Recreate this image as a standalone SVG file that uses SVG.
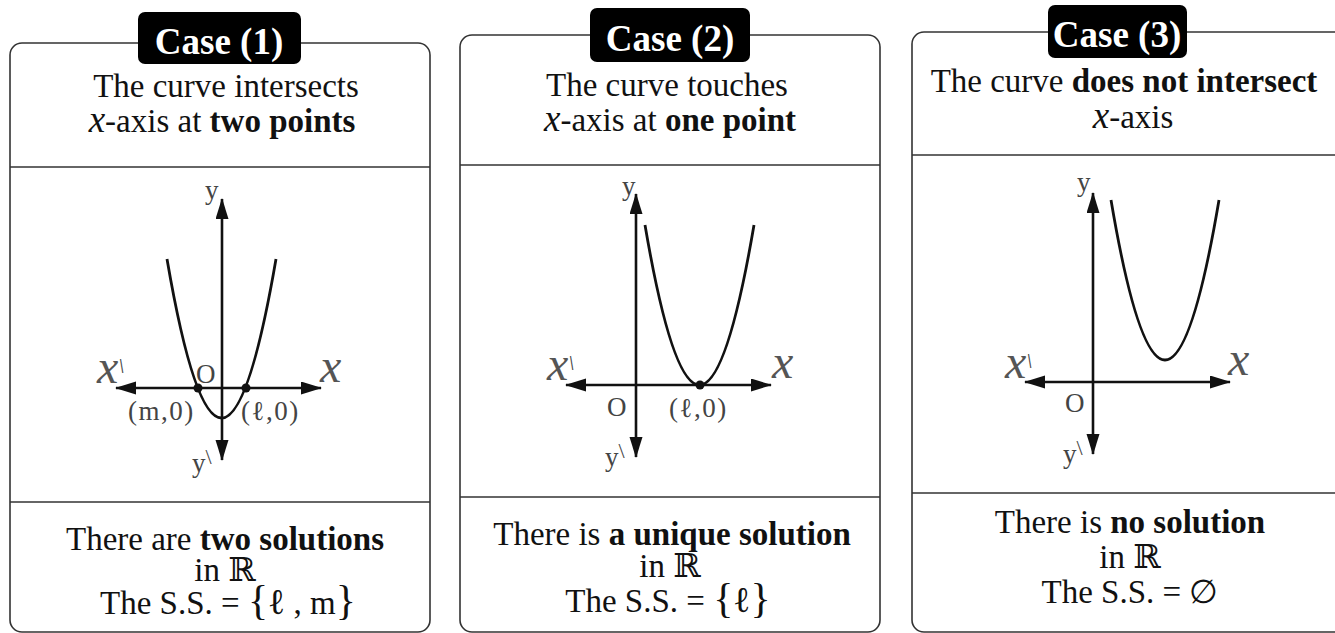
<svg xmlns="http://www.w3.org/2000/svg" width="1335" height="633" viewBox="0 0 1335 633">
<style>
.box{fill:#fff;stroke:#333;stroke-width:1.6}
.div{stroke:#333;stroke-width:1.6}
.tag{fill:#000}
.tagt{font-family:"Liberation Serif",serif;font-weight:bold;font-size:37px;fill:#fff;text-anchor:middle}
.t{font-family:"Liberation Serif","DejaVu Serif",serif;font-size:33px;fill:#111;text-anchor:middle}
.b{font-weight:bold}
.sx{font-family:"Liberation Serif",serif;font-style:italic;font-size:37px}
.ax{stroke:#111;stroke-width:2.6;fill:none;marker-end:url(#ah);marker-start:url(#ah)}
.cv{stroke:#111;stroke-width:2.8;fill:none}
.dot{fill:#111}
.lb{font-family:"Liberation Serif","DejaVu Serif",serif;font-size:27px;fill:#444}
.lx{font-family:"Liberation Serif",serif;font-style:italic;font-size:48px;fill:#555}
.tk{font-family:"Liberation Serif",serif;font-size:22px;fill:#444}
.br{font-size:42px}
</style>
<defs>
<marker id="ah" markerUnits="userSpaceOnUse" markerWidth="24" markerHeight="14" refX="20" refY="6.5" orient="auto-start-reverse">
<path d="M0,0 L21,6.5 L0,13 z" fill="#111"/>
</marker>
</defs>

<g id="case1">
<rect class="box" x="10" y="43" width="420" height="589" rx="12"/>
<line class="div" x1="10" y1="167" x2="430" y2="167"/>
<line class="div" x1="10" y1="502" x2="430" y2="502"/>
<rect class="tag" x="138" y="12" width="163" height="52" rx="7"/>
<text class="tagt" x="219" y="54">Case (1)</text>
<text class="t" x="226" y="97">The curve intersects</text>
<text class="t" x="222" y="132"><tspan class="sx">x</tspan>-axis at <tspan class="b">two points</tspan></text>
<g id="graph1">
<line class="ax" x1="222" y1="460" x2="222" y2="199"/>
<line class="ax" x1="116" y1="388" x2="321" y2="388"/>
<path class="cv" d="M167,259 Q221.5,577 276,259"/>
<circle class="dot" cx="198" cy="388" r="4.5"/>
<circle class="dot" cx="246" cy="388" r="4.5"/>
<text class="lb" x="205" y="199">y</text>
<text class="lb" x="196" y="383">O</text>
<text class="lx" x="320" y="382">x</text>
<text class="lx" x="97" y="383">x<tspan class="tk" dy="-10">\</tspan></text>
<text class="lb" x="128" y="420" letter-spacing="1.5">(m,0)</text>
<text class="lb" x="241" y="420" letter-spacing="1.5">(ℓ,0)</text>
<text class="lb" x="192" y="472">y<tspan class="tk" dy="-8">\</tspan></text>
</g>
<text class="t" x="225" y="550">There are <tspan class="b">two solutions</tspan></text>
<text class="t" x="225" y="581">in ℝ</text>
<text class="t" x="228" y="614">The S.S. = <tspan class="br">{</tspan><tspan font-size="36">ℓ</tspan> , m<tspan class="br">}</tspan></text>
</g>

<g id="case2">
<rect class="box" x="460" y="35" width="420" height="597" rx="12"/>
<line class="div" x1="460" y1="165" x2="880" y2="165"/>
<line class="div" x1="460" y1="497" x2="880" y2="497"/>
<rect class="tag" x="590" y="8" width="160" height="54" rx="7"/>
<text class="tagt" x="670" y="51">Case (2)</text>
<text class="t" x="667" y="96">The curve touches</text>
<text class="t" x="670" y="131"><tspan class="sx">x</tspan>-axis at <tspan class="b">one point</tspan></text>
<g id="graph2">
<line class="ax" x1="636" y1="457" x2="636" y2="194"/>
<line class="ax" x1="566" y1="385" x2="771" y2="385"/>
<path class="cv" d="M645,225 Q699.5,545 754,225"/>
<circle class="dot" cx="700" cy="385" r="4.5"/>
<text class="lb" x="622" y="195">y</text>
<text class="lb" x="607" y="416">O</text>
<text class="lx" x="772" y="378">x</text>
<text class="lx" x="547" y="380">x<tspan class="tk" dy="-10">\</tspan></text>
<text class="lb" x="669" y="417" letter-spacing="1.5">(ℓ,0)</text>
<text class="lb" x="605" y="466">y<tspan class="tk" dy="-8">\</tspan></text>
</g>
<text class="t" x="672" y="545">There is <tspan class="b">a unique solution</tspan></text>
<text class="t" x="670" y="577">in ℝ</text>
<text class="t" x="668" y="612">The S.S. = <tspan class="br">{</tspan><tspan font-size="36">ℓ</tspan><tspan class="br">}</tspan></text>
</g>

<g id="case3">
<rect class="box" x="912" y="32" width="440" height="600" rx="12"/>
<line class="div" x1="912" y1="155" x2="1352" y2="155"/>
<line class="div" x1="912" y1="493" x2="1352" y2="493"/>
<rect class="tag" x="1048" y="5" width="139" height="53" rx="7"/>
<text class="tagt" x="1117" y="47">Case (3)</text>
<text class="t" x="1124" y="92">The curve <tspan class="b">does not intersect</tspan></text>
<text class="t" x="1133" y="128"><tspan class="sx">x</tspan>-axis</text>
<g id="graph3">
<line class="ax" x1="1093" y1="454" x2="1093" y2="193"/>
<line class="ax" x1="1025" y1="382" x2="1230" y2="382"/>
<path class="cv" d="M1111,200 Q1165,520 1219,200"/>
<text class="lb" x="1077" y="191">y</text>
<text class="lb" x="1065" y="412">O</text>
<text class="lx" x="1228" y="375">x</text>
<text class="lx" x="1005" y="378">x<tspan class="tk" dy="-10">\</tspan></text>
<text class="lb" x="1063" y="463">y<tspan class="tk" dy="-8">\</tspan></text>
</g>
<text class="t" x="1130" y="533">There is <tspan class="b">no solution</tspan></text>
<text class="t" x="1130" y="568">in ℝ</text>
<text class="t" x="1130" y="603">The S.S. = ∅</text>
</g>
</svg>
